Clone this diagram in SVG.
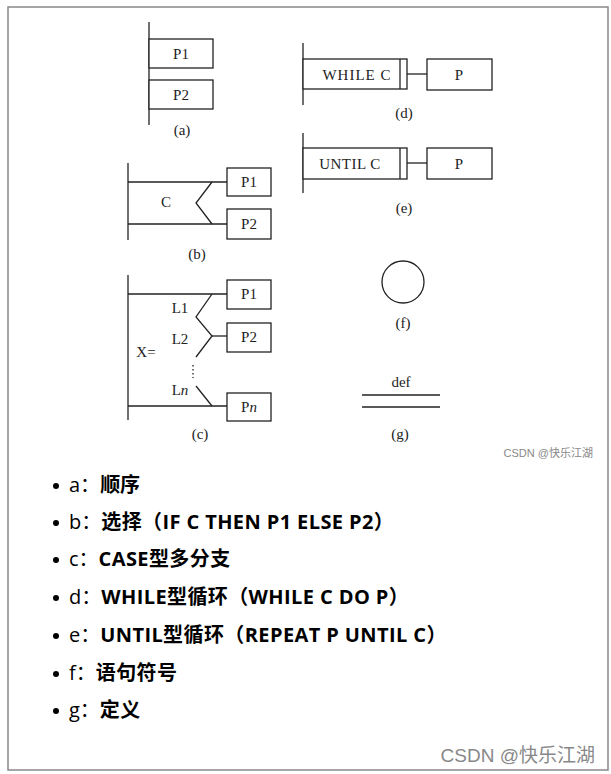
<svg xmlns="http://www.w3.org/2000/svg" width="611" height="774" viewBox="0 0 611 774">
<style>
.ln{stroke:#222;stroke-width:1.3;fill:none}
.bx{stroke:#222;stroke-width:1.3;fill:#fff}
.dt{font-family:"Liberation Serif","Times New Roman",serif;font-size:15px;fill:#222;text-anchor:middle}
.bl{font-family:"Open Sans","Noto Sans","Noto Sans CJK SC",sans-serif;font-size:20px;fill:#000}
.b{font-weight:bold;font-family:"Open Sans","Noto Sans CJK SC",sans-serif}
.wm{font-family:"Liberation Sans","Noto Sans CJK SC",sans-serif;fill:#888}
</style>
<rect x="0" y="0" width="611" height="774" fill="#fff"/>
<rect x="8" y="7" width="600" height="763" fill="none" stroke="#888" stroke-width="1.5"/>

<g id="a">
<line class="ln" x1="149" y1="22" x2="149" y2="125"/>
<rect class="bx" x="149" y="39" width="64" height="29"/>
<rect class="bx" x="149" y="80" width="64" height="29"/>
<text class="dt" x="181" y="59">P1</text>
<text class="dt" x="181" y="100">P2</text>
<text class="dt" x="182" y="135">(a)</text>
</g>

<g id="b">
<line class="ln" x1="128" y1="163" x2="128" y2="240"/>
<polyline class="ln" points="128,182 227,182"/>
<polyline class="ln" points="128,224 227,224"/>
<polyline class="ln" points="212,182 196,203 212,224"/>
<rect class="bx" x="227" y="168" width="44" height="28"/>
<rect class="bx" x="227" y="209" width="44" height="30"/>
<text class="dt" x="166" y="207">C</text>
<text class="dt" x="249" y="187">P1</text>
<text class="dt" x="249" y="229">P2</text>
<text class="dt" x="197" y="259">(b)</text>
</g>

<g id="c">
<line class="ln" x1="128" y1="275" x2="128" y2="420"/>
<line class="ln" x1="128" y1="294" x2="227" y2="294"/>
<line class="ln" x1="128" y1="406" x2="227" y2="406"/>
<polyline class="ln" points="212,294 196,317 212,336 196,357"/>
<line class="ln" x1="212" y1="336" x2="227" y2="336"/>
<line class="ln" x1="196" y1="386" x2="212" y2="406"/>
<line x1="193" y1="365" x2="193" y2="378" stroke="#222" stroke-width="1.3" stroke-dasharray="1.5,2.5"/>
<rect class="bx" x="227" y="280" width="44" height="29"/>
<rect class="bx" x="227" y="323" width="44" height="29"/>
<rect class="bx" x="227" y="393" width="44" height="28"/>
<text class="dt" x="180" y="313">L1</text>
<text class="dt" x="180" y="344">L2</text>
<text class="dt" x="146" y="357">X=</text>
<text class="dt" x="180" y="395">L<tspan font-style="italic">n</tspan></text>
<text class="dt" x="249" y="299">P1</text>
<text class="dt" x="249" y="342">P2</text>
<text class="dt" x="249" y="412">P<tspan font-style="italic">n</tspan></text>
<text class="dt" x="200" y="439">(c)</text>
</g>

<g id="d">
<line class="ln" x1="303" y1="43" x2="303" y2="105"/>
<rect class="bx" x="303" y="59" width="104" height="30"/>
<line class="ln" x1="400" y1="59" x2="400" y2="89"/>
<line class="ln" x1="407" y1="74" x2="427" y2="74"/>
<rect class="bx" x="427" y="59" width="65" height="31"/>
<text class="dt" x="357" y="80" letter-spacing="1">WHILE C</text>
<text class="dt" x="459" y="80">P</text>
<text class="dt" x="404" y="118">(d)</text>
</g>

<g id="e">
<line class="ln" x1="303" y1="133" x2="303" y2="193"/>
<rect class="bx" x="303" y="148" width="104" height="31"/>
<line class="ln" x1="400" y1="148" x2="400" y2="179"/>
<line class="ln" x1="407" y1="163" x2="427" y2="163"/>
<rect class="bx" x="427" y="148" width="65" height="31"/>
<text class="dt" x="350" y="169" letter-spacing="0.5">UNTIL C</text>
<text class="dt" x="459" y="169">P</text>
<text class="dt" x="404" y="213">(e)</text>
</g>

<g id="f">
<circle class="ln" cx="403" cy="282" r="21"/>
<text class="dt" x="403" y="328">(f)</text>
</g>

<g id="g">
<text class="dt" x="401" y="387">def</text>
<line class="ln" x1="362" y1="395" x2="440" y2="395"/>
<line class="ln" x1="362" y1="407" x2="440" y2="407"/>
<text class="dt" x="400" y="439">(g)</text>
</g>

<text class="wm" x="593" y="457" font-size="11" text-anchor="end">CSDN @快乐江湖</text>

<g id="list" class="bl">
<g fill="#000">
<circle cx="56" cy="486" r="3"/>
<circle cx="56" cy="523" r="3"/>
<circle cx="56" cy="560" r="3"/>
<circle cx="56" cy="598" r="3"/>
<circle cx="56" cy="636" r="3"/>
<circle cx="56" cy="674" r="3"/>
<circle cx="56" cy="711" r="3"/>
</g>
<text x="69" y="492">a：<tspan class="b">顺序</tspan></text>
<text x="69" y="529">b：<tspan class="b" letter-spacing="0.4">选择（IF C THEN P1 ELSE P2）</tspan></text>
<text x="69" y="566">c：<tspan class="b" letter-spacing="0.4">CASE型多分支</tspan></text>
<text x="69" y="604">d：<tspan class="b" letter-spacing="0.4">WHILE型循环（WHILE C DO P）</tspan></text>
<text x="69" y="642">e：<tspan class="b" letter-spacing="0.4">UNTIL型循环（REPEAT P UNTIL C）</tspan></text>
<text x="69" y="680">f：<tspan class="b" letter-spacing="0.4">语句符号</tspan></text>
<text x="69" y="717">g：<tspan class="b" letter-spacing="0.4">定义</tspan></text>
</g>

<text class="wm" x="595" y="762" font-size="19" text-anchor="end">CSDN @快乐江湖</text>
</svg>
